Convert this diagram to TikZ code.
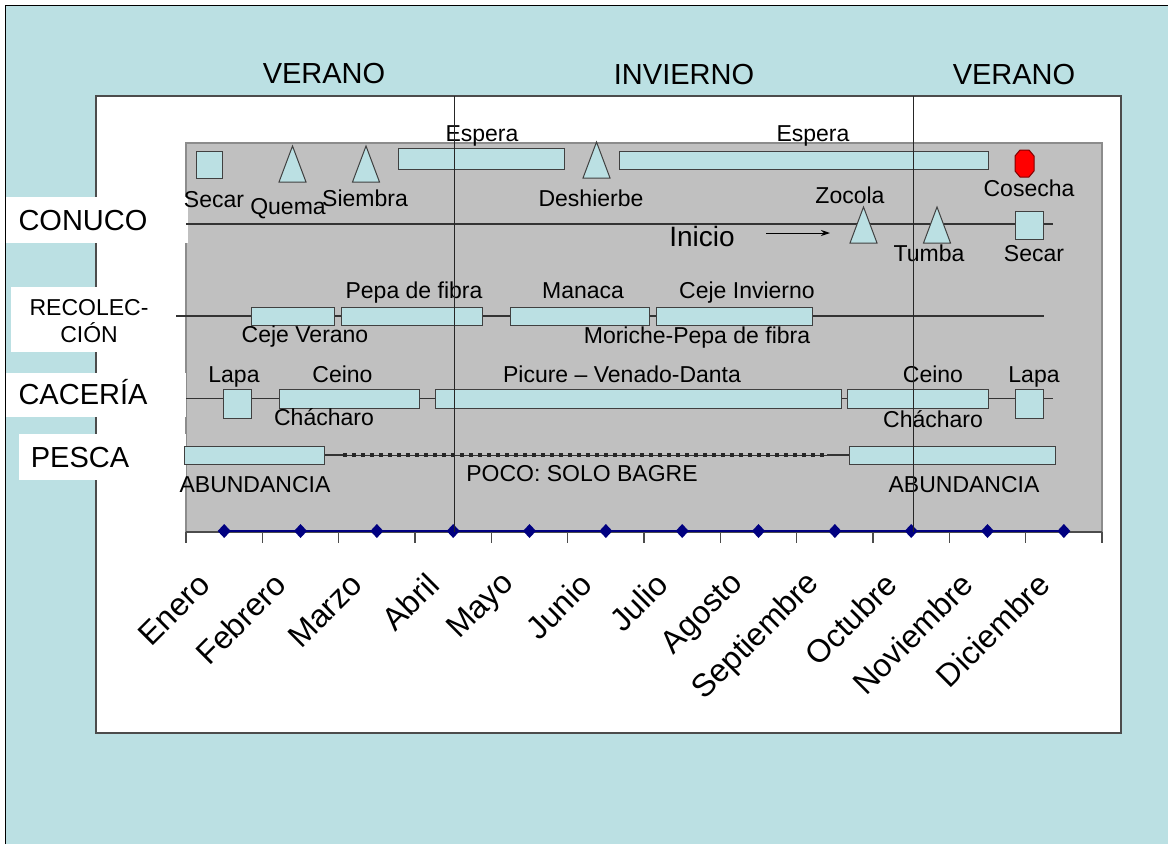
\documentclass[tikz,border=0pt]{standalone}
\usepackage{fontspec}
\setmainfont{Liberation Sans}
\usetikzlibrary{arrows.meta}
\definecolor{lblue}{RGB}{187,224,227}
\definecolor{pgray}{RGB}{192,192,192}
\definecolor{navyc}{RGB}{0,0,128}
\definecolor{edgec}{RGB}{64,64,64}
\tikzset{
 bar/.style={draw=edgec, fill=lblue, line width=1pt, inner sep=0pt},
 tri/.style={draw=edgec, fill=lblue, line width=1pt},
 tripic/.pic={\draw[tri] (-13.5,18) -- (0,-18) -- (13.5,18) -- cycle;},
 lbl/.style={font=\fontsize{23}{27}\selectfont, inner sep=0pt, anchor=base},
 big/.style={font=\fontsize{29}{33}\selectfont, inner sep=0pt, anchor=base},
 month/.style={font=\fontsize{32}{36}\selectfont, inner sep=0pt, anchor=east, rotate=45},
 rowline/.style={draw=black!80, line width=1.2pt},
 vline/.style={draw=black!85, line width=1pt},
 tagbox/.style={fill=white, draw=none},
 diam/.style={fill=navyc, draw=none},
}
\begin{document}
\begin{tikzpicture}[x=1pt,y=-1pt]
\useasboundingbox (0,0) rectangle (1168,844);
% background
\fill[lblue] (5,5) rectangle (1168,844);
\draw[black, line width=1pt] (5,844) -- (5,5) -- (1168,5);
% plot area
\draw[fill=white, draw=black!70, line width=1.5pt] (96,96) rectangle (1121,733);
\draw[fill=pgray, draw=black!45, line width=1.5pt] (186,143) rectangle (1102,532);

% titles
\node[big] (tver1) at (324,83) {VERANO};
\node[big] (tinv) at (684,84) {INVIERNO};
\node[big] (tver2) at (1014,84) {VERANO};

% row label boxes
\fill[tagbox] (6,197) rectangle (188,243);
\node[big] (lconuco) at (83,230) {CONUCO};
\fill[tagbox] (11,287) rectangle (174,352);
\node[lbl] (lrec1) at (89,315) {RECOLEC-};
\node[lbl] (lrec2) at (89,342) {CIÓN};
\fill[tagbox] (6,373) rectangle (186,417);
\node[big] (lcac) at (83,404) {CACERÍA};
\fill[tagbox] (19,434) rectangle (186,480);
\node[big] (lpes) at (80,467) {PESCA};

% ---------- CONUCO ----------
\coordinate (c0) at (186,224);
\coordinate (c1) at (1053,224);
\draw[rowline] (c0) -- (c1);
\node[bar, minimum width=26pt, minimum height=27pt] (secar1) at (209,164.5) {};
\node[lbl] (tsecar1) at (214,207) {Secar};
\pic (quema) at (292.5,164) {tripic};
\node[lbl] (tquema) at (288,214) {Quema};
\pic (siembra) at (366,164) {tripic};
\node[lbl] (tsiembra) at (365,206) {Siembra};
\node[bar, minimum width=166pt, minimum height=21pt] (espera1) at (481,158.5) {};
\node[lbl] (tespera1) at (482,141) {Espera};
\pic (deshierbe) at (596.5,160) {tripic};
\node[lbl] (tdeshierbe) at (591,206) {Deshierbe};
\node[bar, minimum width=369pt, minimum height=18pt] (espera2) at (803.5,160) {};
\node[lbl] (tespera2) at (813,141) {Espera};
\draw[fill=red, draw=red!50!black, line width=1pt]
  (1020,150) -- (1029,150) -- (1034,156) -- (1034,171) -- (1029,177) -- (1020,177) -- (1015,171) -- (1015,156) -- cycle;
\coordinate (cosecha) at (1024.5,164);
\node[lbl] (tcosecha) at (1029,196) {Cosecha};
\node[lbl] (tzocola) at (850,203) {Zocola};
\pic (zocola) at (863.5,225) {tripic};
\pic (tumba) at (937,225) {tripic};
\node[lbl] (ttumba) at (929,261) {Tumba};
\node[bar, minimum width=28pt, minimum height=28pt] (secar2) at (1029,225) {};
\node[lbl] (tsecar2) at (1034,261) {Secar};
\node[font=\fontsize{28}{31}\selectfont, inner sep=0pt, anchor=base] (tinicio) at (702,246) {Inicio};
\coordinate (a0) at (766,233);
\coordinate (a1) at (830,233);
\draw[black, line width=1pt, -{Stealth[length=9pt,width=6pt]}] (a0) -- (a1);

% ---------- RECOLECCION ----------
\coordinate (r0) at (176,316);
\coordinate (r1) at (1044,316);
\draw[rowline] (r0) -- (r1);
\node[bar, minimum width=83pt, minimum height=18pt] (cejev) at (292.5,316) {};
\node[lbl] (tcejev) at (305,342) {Ceje Verano};
\node[bar, minimum width=141pt, minimum height=18pt] (pepa) at (411.5,316) {};
\node[lbl] (tpepa) at (414,298) {Pepa de fibra};
\node[bar, minimum width=139pt, minimum height=18pt] (manaca) at (579.5,316) {};
\node[lbl] (tmanaca) at (583,298) {Manaca};
\node[bar, minimum width=156pt, minimum height=18pt] (cejei) at (734,316) {};
\node[lbl] (tcejei) at (747,298) {Ceje Invierno};
\node[lbl] (tmoriche) at (697,343) {Moriche-Pepa de fibra};

% ---------- CACERIA ----------
\coordinate (h0) at (186,398.5);
\coordinate (h1) at (1053,398.5);
\draw[rowline] (h0) -- (h1);
\node[bar, minimum width=28pt, minimum height=29pt] (lapa1) at (237,403.5) {};
\node[lbl] (tlapa1) at (234,382) {Lapa};
\node[bar, minimum width=140pt, minimum height=19pt] (ceino1) at (349,398.5) {};
\node[lbl] (tceino1) at (342.5,382) {Ceino};
\node[lbl] (tchach1) at (324,425) {Chácharo};
\node[bar, minimum width=406pt, minimum height=19pt] (picure) at (638,398.5) {};
\node[lbl] (tpicure) at (622,382) {Picure – Venado-Danta};
\node[bar, minimum width=141pt, minimum height=19pt] (ceino2) at (917.5,398.5) {};
\node[lbl] (tceino2) at (933,382) {Ceino};
\node[lbl] (tchach2) at (933,427) {Chácharo};
\node[bar, minimum width=28pt, minimum height=29pt] (lapa2) at (1029,403.5) {};
\node[lbl] (tlapa2) at (1034,382) {Lapa};

% ---------- PESCA ----------
\node[bar, minimum width=140pt, minimum height=18pt] (abund1) at (254,455) {};
\node[bar, minimum width=206pt, minimum height=18pt] (abund2) at (952,455) {};
\coordinate (p1) at (343,455);
\coordinate (p2) at (827,455);
\draw[rowline] (abund1.east) -- (p1);
\draw[rowline] (p2) -- (abund2.west);
\draw[draw=black!80, line width=1pt] (p1) -- (p2);
\draw[draw=black!85, line width=3.5pt, dash pattern=on 4pt off 5pt] (p1) -- (p2);
\node[lbl] (tabund1) at (255,492) {ABUNDANCIA};
\node[lbl] (tpoco) at (582,481) {POCO: SOLO BAGRE};
\node[lbl] (tabund2) at (964,492) {ABUNDANCIA};

% ---------- axis ----------
\coordinate (ax0) at (186,532);
\coordinate (ax1) at (1102,532);
\draw[draw=black!70, line width=1.5pt] (ax0) -- (ax1);
\foreach \k in {0,...,12} {
  \draw[draw=black!70, line width=1.2pt] ({186+\k*76.333},532) -- ({186+\k*76.333},543);
}
\coordinate (n0) at (224.2,531);
\coordinate (n1) at (1063.8,531);
\draw[draw=navyc, line width=2pt] (n0) -- (n1);
\foreach \k in {0,...,11} {
  \fill[diam] ({224.2+\k*76.333},524) -- ({230.7+\k*76.333},531) -- ({224.2+\k*76.333},538) -- ({217.7+\k*76.333},531) -- cycle;
}
% season dividers
\coordinate (v1a) at (454,96);
\coordinate (v1b) at (454,532);
\coordinate (v2a) at (913,96);
\coordinate (v2b) at (913,532);
\draw[vline] (v1a) -- (v1b);
\draw[vline] (v2a) -- (v2b);

% months
\foreach \m [count=\i from 0] in {Enero,Febrero,Marzo,Abril,Mayo,Junio,Julio,Agosto,Septiembre,Octubre,Noviembre,Diciembre} {
  \node[month] (m\i) at ({224.2+\i*76.333-20},579) {\m};
}
\end{tikzpicture}
\end{document}
